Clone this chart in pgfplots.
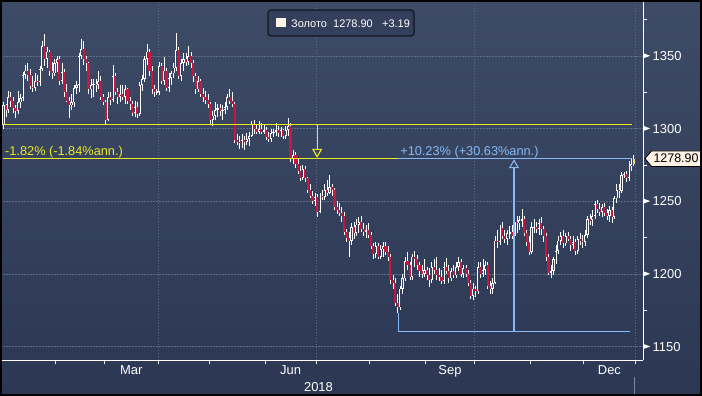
\documentclass[border=0pt]{standalone}
\usepackage{pgfplots}
\pgfplotsset{compat=1.18}
\usepackage{pgfplotstable}
\usepackage{fontspec}
\setmainfont{Liberation Sans}
\usetikzlibrary{arrows.meta}
\definecolor{bgtop}{RGB}{62,75,102}
\definecolor{bgbot}{RGB}{44,56,83}
\definecolor{bgmid}{RGB}{54,66,93}
\definecolor{gridc}{RGB}{92,108,138}
\definecolor{candlered}{RGB}{196,24,62}
\definecolor{yel}{RGB}{235,235,30}
\definecolor{blu}{RGB}{135,185,245}
\definecolor{cream}{RGB}{253,242,228}
\definecolor{sepc}{RGB}{120,136,162}
\definecolor{lastc}{RGB}{236,220,120}

\pgfplotstableread{
i o h l c
0 1302.5 1307 1296 1302.6
1 1302.6 1318 1300 1316
2 1316 1317 1308 1313
3 1313 1326 1311 1322
4 1322 1325 1315 1319
5 1319 1322 1311 1314
6 1314 1316 1307 1312
7 1312 1326 1310 1318
8 1318 1324 1314 1321
9 1321 1339 1319 1337
10 1337 1344 1334 1340
11 1340 1345 1333 1337
12 1337 1341 1327 1329
13 1329 1336 1325 1328
14 1328 1338 1326 1333
15 1333 1337 1329 1332
16 1332 1343 1329 1341
17 1341 1360 1340 1357
18 1357 1365 1343 1348
19 1348 1356 1342 1353
20 1353 1354 1336 1340
21 1340 1346 1334 1338
22 1338 1348 1336 1345
23 1345 1350 1339 1348
24 1348 1350 1330 1333
25 1333 1345 1331 1339
26 1339 1341 1322 1325
27 1325 1331 1318 1319
28 1319 1322 1307 1316
29 1316 1324 1313 1318
30 1318 1330 1315 1328
31 1328 1333 1324 1330
32 1330 1352 1325 1350
33 1350 1362 1348 1355
34 1355 1360 1344 1348
35 1348 1350 1340 1345
36 1345 1346 1324 1327
37 1327 1334 1321 1330
38 1330 1334 1322 1331
39 1331 1334 1325 1330
40 1330 1340 1327 1333
41 1333 1336 1320 1322
42 1322 1324 1316 1318
43 1318 1320 1303 1306
44 1306 1325 1305 1322
45 1322 1325 1316 1320
46 1320 1344 1318 1336
47 1336 1338 1323 1325
48 1325 1328 1317 1322
49 1322 1330 1318 1324
50 1324 1330 1320 1322
51 1322 1330 1317 1327
52 1327 1328 1317 1319
53 1319 1322 1313 1317
54 1317 1319 1309 1311
55 1311 1319 1308 1315
56 1315 1318 1307 1310
57 1310 1332 1309 1330
58 1330 1337 1326 1334
59 1334 1350 1332 1348
60 1348 1358 1344 1353
61 1353 1355 1336 1340
62 1340 1343 1324 1327
63 1327 1330 1322 1325
64 1325 1327 1323 1325.5
65 1325.5 1346 1323 1343
66 1343 1345 1331 1333
67 1333 1349 1330 1340
68 1340 1342 1326 1328
69 1328 1338 1325 1335
70 1335 1340 1330 1338
71 1338 1345 1335 1342
72 1342 1366 1340 1354
73 1354 1356 1334 1336
74 1336 1348 1333 1345
75 1345 1352 1340 1348
76 1348 1352 1343 1346
77 1346 1357 1344 1350
78 1350 1353 1342 1345
79 1345 1347 1332 1336
80 1336 1338 1324 1327
81 1327 1336 1325 1333
82 1333 1334 1322 1324
83 1324 1328 1318 1322
84 1322 1326 1317 1320
85 1320 1324 1314 1317
86 1317 1318 1303 1306
87 1306 1312 1302 1309
88 1309 1318 1306 1313
89 1313 1317 1308 1314
90 1314 1317 1309 1312
91 1312 1316 1306 1313
92 1313 1318 1310 1315
93 1315 1324 1313 1322
94 1322 1327 1317 1319
95 1319 1325 1315 1317
96 1317 1318 1290 1292
97 1292 1296 1289 1291
98 1291 1295 1286 1290
99 1290 1296 1287 1292
100 1292 1295 1285 1291
101 1291 1297 1289 1293
102 1293 1298 1288 1295
103 1295 1305 1294 1303
104 1303 1306 1296 1300
105 1300 1303 1296 1298
106 1298 1305 1296 1300
107 1300 1304 1296 1298
108 1298 1303 1296 1299
109 1299 1301 1292 1294
110 1294 1298 1291 1293
111 1293 1300 1291 1297
112 1297 1300 1294 1298
113 1298 1304 1295 1299
114 1299 1302 1294 1297
115 1297 1301 1294 1299
116 1299 1300 1293 1295
117 1295 1302 1293 1299
118 1299 1307 1295 1302
119 1302 1304 1277 1279
120 1279 1285 1276 1282
121 1282 1284 1273 1276
122 1276 1280 1269 1271
123 1271 1274 1264 1266
124 1266 1275 1265 1272
125 1272 1274 1263 1266
126 1266 1267 1256 1258
127 1258 1262 1252 1254
128 1254 1257 1248 1250
129 1250 1256 1247 1253
130 1253 1255 1239 1243
131 1243 1256 1242 1254
132 1254 1258 1251 1253
133 1253 1262 1251 1258
134 1258 1265 1254 1256
135 1256 1268 1255 1260
136 1260 1262 1254 1258
137 1258 1259 1244 1246
138 1246 1250 1241 1244
139 1244 1249 1240 1242
140 1242 1246 1236 1240
141 1240 1243 1227 1229
142 1229 1231 1222 1225
143 1225 1229 1212 1223
144 1223 1235 1220 1232
145 1232 1236 1224 1228
146 1228 1238 1226 1234
147 1234 1239 1228 1236
148 1236 1240 1229 1231
149 1231 1235 1226 1229
150 1229 1234 1225 1230
151 1230 1235 1225 1227
152 1227 1229 1217 1219
153 1219 1221 1210 1214
154 1214 1222 1211 1219
155 1219 1221 1210 1212
156 1212 1220 1210 1217
157 1217 1222 1212 1219
158 1219 1222 1213 1215
159 1215 1219 1209 1212
160 1212 1214 1193 1196
161 1196 1199 1190 1194
162 1194 1197 1178 1180
163 1180 1186 1173 1177
164 1177 1192 1175 1190
165 1190 1200 1186 1197
166 1197 1212 1195 1209
167 1209 1215 1203 1206
168 1206 1208 1196 1198
169 1198 1214 1196 1212
170 1212 1216 1205 1210
171 1210 1213 1203 1206
172 1206 1208 1198 1202
173 1202 1206 1197 1200
174 1200 1210 1198 1203
175 1203 1205 1196 1199
176 1199 1204 1191 1196
177 1196 1208 1194 1205
178 1205 1210 1200 1203
179 1203 1212 1196 1199
180 1199 1204 1195 1198
181 1198 1203 1193 1195
182 1195 1208 1193 1205
183 1205 1211 1200 1202
184 1202 1206 1194 1197
185 1197 1204 1195 1202
186 1202 1206 1197 1199
187 1199 1208 1197 1205
188 1205 1212 1202 1208
189 1208 1210 1198 1200
190 1200 1206 1197 1204
191 1204 1206 1198 1200
192 1200 1203 1192 1194
193 1194 1196 1183 1185
194 1185 1194 1182 1190
195 1190 1192 1184 1188
196 1188 1208 1186 1205
197 1205 1208 1197 1200
198 1200 1210 1198 1203
199 1203 1209 1199 1206
200 1206 1208 1190 1192
201 1192 1195 1186 1190
202 1190 1197 1186 1194
203 1194 1226 1193 1223
204 1223 1230 1218 1222
205 1222 1234 1220 1232
206 1232 1236 1224 1226
207 1226 1230 1221 1224
208 1224 1230 1220 1228
209 1228 1233 1224 1229
210 1229 1234 1224 1226
211 1226 1243 1225 1236
212 1236 1240 1228 1235
213 1235 1240 1230 1237
214 1237 1245 1232 1238
215 1238 1240 1226 1228
216 1228 1230 1219 1222
217 1222 1226 1213 1215
218 1215 1236 1214 1232
219 1232 1238 1228 1232.5
220 1232.5 1236 1228 1231
221 1231 1238 1227 1235
222 1235 1239 1227 1231
223 1231 1233 1222 1226
224 1226 1228 1209 1212
225 1212 1214 1199 1201
226 1201 1206 1197 1202
227 1202 1212 1199 1210
228 1210 1220 1207 1216
229 1216 1226 1214 1223
230 1223 1229 1220 1226
231 1226 1230 1218 1221
232 1221 1228 1219 1226
233 1226 1229 1223 1224
234 1224 1226 1216 1220
235 1220 1226 1217 1222
236 1222 1224 1213 1216
237 1216 1226 1214 1224
238 1224 1228 1220 1223
239 1223 1227 1218 1222
240 1222 1230 1219 1227
241 1227 1240 1225 1238
242 1238 1241 1234 1237
243 1237 1244 1233 1240
244 1240 1250 1238 1248
245 1248 1251 1242 1245
246 1245 1249 1240 1243
247 1243 1248 1239 1246
248 1246 1249 1240 1242
249 1242 1245 1237 1240
250 1240 1247 1236 1244
251 1244 1246 1235 1239
252 1239 1254 1238 1252
253 1252 1262 1249 1258
254 1258 1262 1252 1257
255 1257 1270 1256 1268
256 1268 1270 1266 1269
257 1269 1271 1263 1266
258 1266 1278 1264 1276
259 1274 1279 1271 1275.7
}\candles

\pgfplotstableread{
i o h l c
260 1275.7 1282 1274 1278.9
}\lastcandle

\begin{document}
\begin{tikzpicture}
\shade[top color=bgtop, bottom color=bgbot] (0,0) rectangle (702bp,396bp);
\begin{axis}[
  at={(0bp,36bp)}, anchor=south west,
  width=643bp, height=360bp, scale only axis,
  xmin=-0.4, xmax=263.8, ymin=1140.85, ymax=1388.5,
  axis x line*=bottom, axis y line*=right,
  axis line style={white, line width=1bp},
  tick align=outside,
  major tick length=4bp, minor tick length=4bp,
  tick style={white, line width=0.8bp},
  xtick={64.5,129.5,194.5,260.5},
  xticklabels={},
  minor xtick={22.5,42.5,85.5,108.5,151.5,174.5,217.5,239.5},
  extra x ticks={53.5,119,184.5,250},
  extra x tick labels={Mar,Jun,Sep,Dec},
  extra x tick style={major tick length=0pt, grid=none},
  xticklabel style={font=\fontsize{13}{13}\selectfont, text=white, anchor=north, inner sep=0pt, yshift=-5.5bp},
  ytick={1150,1200,1250,1300,1350},
  minor ytick={1175,1225,1275,1325,1375},
  yticklabel={\tikz[baseline={(0,-0.36em)}]\fill[white] (0,2.6bp)--(7bp,0)--(0,-2.6bp)--cycle;\hspace{2.5bp}\pgfmathprintnumber[assume math mode=true,1000 sep={}]{\tick}},
  yticklabel style={font=\fontsize{13}{13}\selectfont, text=white, anchor=west, inner sep=0pt, xshift=-4bp},
  xmajorgrids, ymajorgrids,
  grid style={gridc, dash pattern=on 1.5bp off 1.5bp, line width=0.6bp},
  every axis plot/.append style={forget plot},
]
% wicks
\addplot[draw=none, mark=none, error bars/.cd, y dir=both, y explicit,
  error bar style={draw=white, line width=0.6bp}, error mark=none]
  table[x=i, y expr={(\thisrow{h}+\thisrow{l})/2}, y error expr={(\thisrow{h}-\thisrow{l})/2}] {\candles};
% down bodies
\addplot[draw=none, mark=none, y filter/.expression={\thisrow{c}<\thisrow{o} ? y : nan},
  error bars/.cd, y dir=both, y explicit,
  error bar style={draw=candlered, line width=2.2bp, line cap=butt}, error mark=none]
  table[x=i, y expr={(\thisrow{o}+\thisrow{c})/2}, y error expr={max(abs(\thisrow{o}-\thisrow{c})/2,0.4)}] {\candles};
% up bodies outline
\addplot[draw=none, mark=none, y filter/.expression={\thisrow{c}<\thisrow{o} ? nan : y},
  error bars/.cd, y dir=both, y explicit,
  error bar style={draw=white, line width=2.2bp, line cap=butt}, error mark=none]
  table[x=i, y expr={(\thisrow{o}+\thisrow{c})/2}, y error expr={max(abs(\thisrow{o}-\thisrow{c})/2,0.4)}] {\candles};
% up bodies hollow
\addplot[draw=none, mark=none, y filter/.expression={\thisrow{c}<\thisrow{o} ? nan : y},
  error bars/.cd, y dir=both, y explicit,
  error bar style={draw=bgmid, line width=0.9bp, line cap=butt}, error mark=none]
  table[x=i, y expr={(\thisrow{o}+\thisrow{c})/2}, y error expr={max(abs(\thisrow{o}-\thisrow{c})/2-0.6,0)}] {\candles};
% last candle
\addplot[draw=none, mark=none, error bars/.cd, y dir=both, y explicit,
  error bar style={draw=white, line width=0.6bp}, error mark=none]
  table[x=i, y expr={(\thisrow{h}+\thisrow{l})/2}, y error expr={(\thisrow{h}-\thisrow{l})/2}] {\lastcandle};
\addplot[draw=none, mark=none, error bars/.cd, y dir=both, y explicit,
  error bar style={draw=lastc, line width=2.2bp, line cap=butt}, error mark=none]
  table[x=i, y expr={(\thisrow{o}+\thisrow{c})/2}, y error expr={abs(\thisrow{o}-\thisrow{c})/2}] {\lastcandle};
% annotation lines
\addplot[draw=yel, line width=1.1bp, mark=none] coordinates {(0.83,1302.85) (259.3,1302.85)};
\addplot[draw=yel, line width=1.1bp, mark=none] coordinates {(0.83,1279.47) (163.3,1279.47)};
\addplot[draw=blu, line width=1.1bp, mark=none] coordinates {(163.3,1279.47) (259.3,1279.47)};
\addplot[draw=blu, line width=1.1bp, mark=none] coordinates {(163.3,1173) (163.3,1160.46) (258.3,1160.46)};
\addplot[draw=yel, line width=1.1bp, mark=none, -{Triangle[open, length=9bp, width=10bp]}] coordinates {(129.9,1302.85) (129.9,1279.9)};
\addplot[draw=blu, line width=1.1bp, mark=none, -{Triangle[open, length=9bp, width=10bp]}] coordinates {(210.8,1160.46) (210.8,1279.0)};
% annotation texts
\node[anchor=base west, inner sep=0pt, text=yel, font=\fontsize{12.8}{13}\selectfont] at (axis cs:1.65,1281.6) {-1.82\% (-1.84\%ann.)};
\node[anchor=base west, inner sep=0pt, text=blu, font=\fontsize{12.8}{13}\selectfont] at (axis cs:164,1281.6) {+10.23\% (+30.63\%ann.)};
\end{axis}
% legend box
\draw[rounded corners=3bp, draw={rgb,255:red,18;green,23;blue,34}, line width=1.2bp, fill={rgb,255:red,52;green,64;blue,91}] (268bp,360bp) rectangle (414bp,386bp);
\fill[cream] (276bp,368.5bp) rectangle (285.5bp,378bp);
\node[anchor=base west, inner sep=0pt, text=white, font=\fontsize{11}{11}\selectfont] at (291bp,368bp) {Золото};
\node[anchor=base west, inner sep=0pt, text=white, font=\fontsize{11}{11}\selectfont] at (333bp,368bp) {1278.90};
\node[anchor=base west, inner sep=0pt, text=white, font=\fontsize{11}{11}\selectfont] at (382bp,368bp) {+3.19};
% price tag
\filldraw[fill=cream, draw=black, line width=0.8bp] (645bp,237.5bp) -- (651.5bp,245bp) -- (700.5bp,245bp) -- (700.5bp,229.5bp) -- (651.5bp,229.5bp) -- cycle;
\node[inner sep=0pt, text=black, font=\fontsize{12.5}{12.5}\selectfont] at (676bp,237.5bp) {1278.90};
% bottom year label and separators
\node[anchor=base, inner sep=0pt, text=white, font=\fontsize{13}{13}\selectfont] at (318.5bp,5bp) {2018};
\draw[sepc, line width=1bp] (1.7bp,0) -- (1.7bp,18bp);
\draw[sepc, line width=1bp] (634bp,0) -- (634bp,19bp);
% frame
\draw[black, line width=2bp] (1bp,1bp) rectangle (701bp,395bp);
\pgfresetboundingbox
\path[use as bounding box] (0,0) rectangle (702bp,396bp);
\end{tikzpicture}
\end{document}
